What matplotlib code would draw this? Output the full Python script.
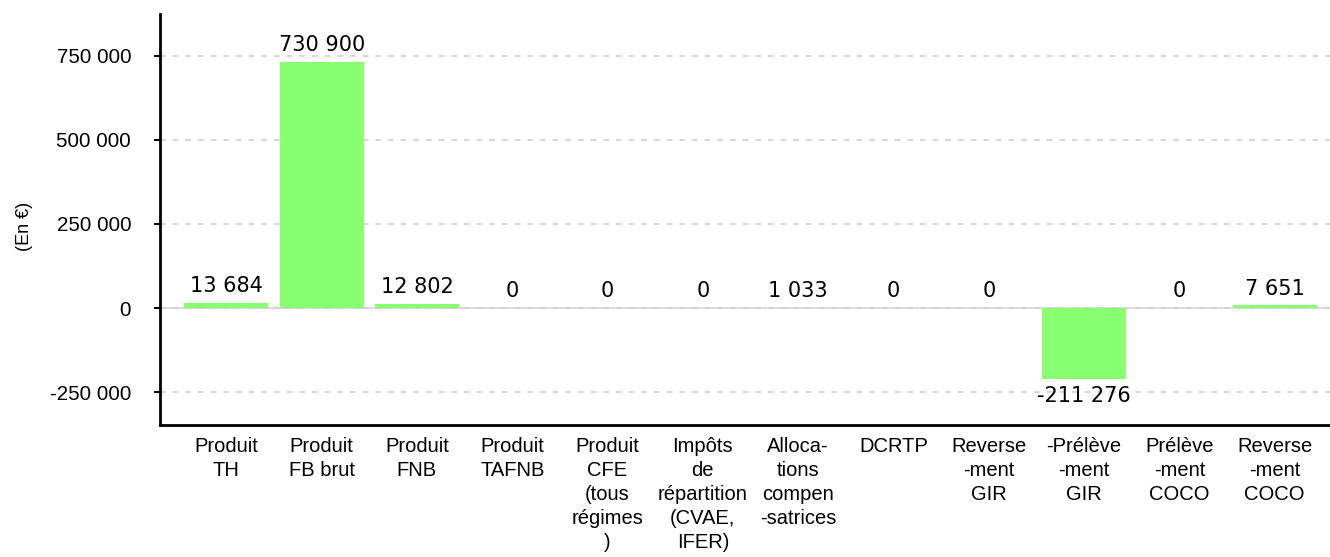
import matplotlib.pyplot as plt

categories = [
    "Produit\nTH", "Produit\nFB brut", "Produit\nFNB", "Produit\nTAFNB",
    "Produit\nCFE\n(tous\nrégimes\n)", "Impôts\nde\nrépartition\n(CVAE,\nIFER)",
    "Alloca-\ntions\ncompen\n-satrices", "DCRTP", "Reverse\n-ment\nGIR",
    "-Prélève\n-ment\nGIR", "Prélève\n-ment\nCOCO", "Reverse\n-ment\nCOCO",
]
values = [13684, 730900, 12802, 0, 0, 0, 1033, 0, 0, -211276, 0, 7651]
yticks = [-250000, 0, 250000, 500000, 750000]


def fmt(v):
    return f"{v:,}".replace(",", " ")


fig = plt.figure(figsize=(13.3, 5.57), dpi=100)
ax = fig.add_axes([0.120, 0.237, 0.880, 0.738])

x = range(len(categories))
ax.bar(x, values, width=0.88, color="#88ff70", zorder=3)

for i, v in enumerate(values):
    if v < 0:
        ax.annotate(fmt(v), (i, v), xytext=(0, -5), textcoords="offset points",
                    ha="center", va="top", fontsize=15, family="DejaVu Sans")
    else:
        ax.annotate(fmt(v), (i, v), xytext=(0, 5), textcoords="offset points",
                    ha="center", va="bottom", fontsize=15, family="DejaVu Sans")

ax.set_xlim(-0.7, 11.58)
ax.set_ylim(-348000, 875000)
ax.set_yticks(yticks)
ax.set_yticklabels([fmt(t) for t in yticks], family="Liberation Sans", fontsize=14.8)
ax.set_xticks(list(x))
ax.set_xticklabels(categories, family="Liberation Sans", fontsize=14.5, va="top",
                   linespacing=1.33)
ax.tick_params(axis="x", length=0, pad=9)
ax.tick_params(axis="y", length=4.5, width=1.5, pad=16)

ax.grid(axis="y", color="#d0d0d0", linestyle=(0, (3.4, 4.2)), linewidth=1.2, zorder=0)
ax.axhline(0, color="#dddddd", linewidth=1.5, zorder=1)
for s in ["top", "right"]:
    ax.spines[s].set_visible(False)
for s in ["left", "bottom"]:
    ax.spines[s].set_linewidth(2)

ax.set_ylabel("(En €)", family="Liberation Sans", fontsize=13)
ax.yaxis.set_label_coords(-0.108, 0.482)

fig.savefig("out.png", dpi=100)
